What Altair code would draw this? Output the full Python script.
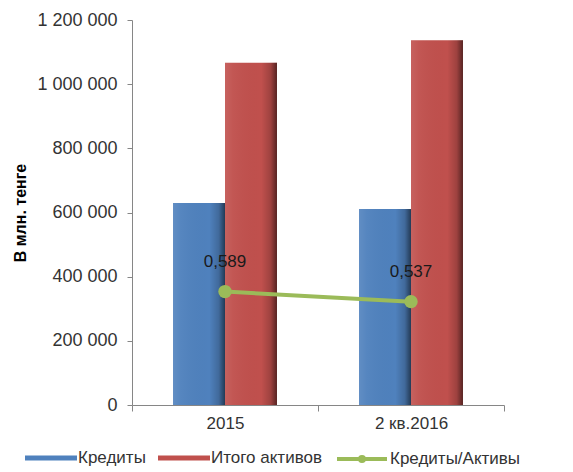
import altair as alt
import pandas as pd

categories = ["2015", "2 кв.2016"]
series_names = ["Кредиты", "Итого активов"]
loans = [630000, 611000]
assets = [1067000, 1137000]
ratio = [0.589, 0.537]
ratio_name = "Кредиты/Активы"

bars_df = pd.DataFrame({
    "cat": categories * 2,
    "series": [series_names[0]] * 2 + [series_names[1]] * 2,
    "value": loans + assets,
})
ratio_df = pd.DataFrame({"cat": categories, "ratio": ratio, "name": [ratio_name] * 2})

FONT = "Liberation Sans"
TXT = "#333333"
AXC = "#868686"

x_enc = alt.X(
    "cat:N", sort=categories, title=None,
    scale=alt.Scale(paddingInner=0, paddingOuter=0),
    axis=alt.Axis(labelAngle=0, labelFontSize=17, labelFont=FONT, labelColor=TXT,
                  domainColor=AXC, tickColor=AXC, tickSize=6, tickBand="extent",
                  labelPadding=4, grid=False),
)
xoff = alt.XOffset("series:N", sort=series_names,
                   scale=alt.Scale(paddingInner=0, paddingOuter=0.789))
y_scale = alt.Scale(domain=[0, 1200000])

bars = alt.Chart(bars_df).mark_bar().encode(
    x=x_enc,
    xOffset=xoff,
    y=alt.Y("value:Q", scale=y_scale, title="В млн. тенге",
            axis=alt.Axis(values=[0, 200000, 400000, 600000, 800000, 1000000, 1200000],
                          labelExpr="replace(format(datum.value, ',d'), regexp(',', 'g'), ' ')",
                          labelFontSize=18, labelFont=FONT, labelColor=TXT,
                          domainColor=AXC, tickColor=AXC, tickSize=5, labelPadding=10,
                          grid=False, titleFont=FONT, titleFontSize=16, titleFontWeight="bold",
                          titleColor="#000000", titlePadding=8)),
    color=alt.Color("series:N", sort=series_names,
                    scale=alt.Scale(domain=series_names, range=["#4F81BD", "#C0504D"]),
                    legend=alt.Legend(title=None, orient="none", direction="horizontal",
                                      legendX=-107, legendY=412,
                                      symbolType="M-1,-0.1H1V0.1H-1Z", symbolSize=2704,
                                      symbolStrokeWidth=0,
                                      labelFontSize=17, labelFont=FONT, labelColor=TXT,
                                      labelOffset=1, columnPadding=12)),
)

shade = {
    "gradient": "linear", "x1": 0, "y1": 0, "x2": 1, "y2": 0,
    "stops": [
        {"offset": 0, "color": "rgba(255,255,255,0.10)"},
        {"offset": 0.15, "color": "rgba(255,255,255,0.04)"},
        {"offset": 0.7, "color": "rgba(0,0,0,0.0)"},
        {"offset": 0.88, "color": "rgba(0,0,0,0.18)"},
        {"offset": 1, "color": "rgba(0,0,0,0.55)"},
    ],
}
overlay = alt.Chart(bars_df).mark_bar().encode(
    x=alt.X("cat:N", sort=categories),
    xOffset=xoff,
    y=alt.Y("value:Q", scale=y_scale),
    fill=alt.value(shade),
)

r_scale = alt.Scale(domain=[0, 2])
line = alt.Chart(ratio_df).mark_line(strokeWidth=4).encode(
    x=alt.X("cat:N", sort=categories),
    y=alt.Y("ratio:Q", scale=r_scale, axis=None),
    color=alt.Color("name:N", scale=alt.Scale(domain=[ratio_name], range=["#9BBB59"]),
                    legend=alt.Legend(title=None, orient="none", direction="horizontal",
                                      legendX=203, legendY=412,
                                      symbolType="M-1,0H1M-0.08,0A0.08,0.08 0 1,0 0.08,0A0.08,0.08 0 1,0 -0.08,0",
                                      symbolSize=2500, symbolStrokeWidth=4,
                                      labelFontSize=17, labelFont=FONT, labelColor=TXT,
                                      labelOffset=1)),
)
points = alt.Chart(ratio_df).mark_point(filled=True, size=180, opacity=1, color="#9BBB59").encode(
    x=alt.X("cat:N", sort=categories),
    y=alt.Y("ratio:Q", scale=r_scale, axis=None),
)
labels = alt.Chart(ratio_df).transform_calculate(
    lbl="replace(format(datum.ratio, '.3f'), '.', ',')"
).mark_text(dy=-30, fontSize=17, font=FONT, color="#1a1a1a").encode(
    x=alt.X("cat:N", sort=categories),
    y=alt.Y("ratio:Q", scale=r_scale, axis=None),
    text="lbl:N",
)

chart = alt.layer(
    alt.layer(bars, overlay),
    alt.layer(line, points, labels),
).resolve_scale(y="independent", color="independent").properties(
    width=372, height=385,
    autosize=alt.AutoSizeParams(type="none"),
    padding={"left": 124, "top": 12, "right": 50, "bottom": 70},
).configure_view(stroke=None)

chart.save("out.html", embed_options={"renderer": "svg", "actions": False})
